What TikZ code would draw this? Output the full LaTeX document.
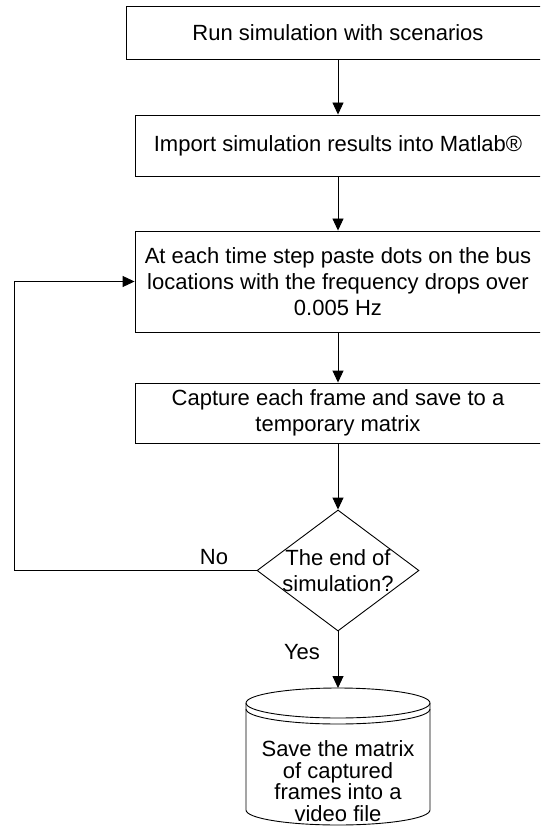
\documentclass[tikz,border=0pt]{standalone}
\usepackage{fontspec}
\setmainfont{Liberation Sans}
\usetikzlibrary{shapes.geometric,arrows.meta}

\tikzset{
  line/.style={draw=black, line width=0.9pt},
  arr/.style={line, -{Triangle[length=12pt,width=11pt]}},
  procbox/.style={line, rectangle, inner sep=0pt, align=center,
    font=\fontsize{22pt}{26pt}\selectfont},
  lbl/.style={inner sep=0pt, align=center,
    font=\fontsize{22pt}{26pt}\selectfont},
  storelbl/.style={inner sep=0pt, align=center,
    font=\fontsize{22pt}{21.5pt}\selectfont},
}

\begin{document}
\begin{tikzpicture}[x=1pt, y=-1pt]
  \clip (0,0) rectangle (540,826);
  \fill[white] (0,0) rectangle (540,826);

  % process steps
  \node[procbox, minimum width=424pt, minimum height=53pt] (run) at (338,32.5)
    {Run simulation with scenarios};
  \node[procbox, minimum width=406pt, minimum height=61pt] (import) at (338,145.5)
    {Import simulation results into Matlab®};
  \node[procbox, minimum width=406pt, minimum height=101pt] (paste) at (338,281.5)
    {At each time step paste dots on the bus\\locations with the frequency drops over\\0.005 Hz};
  \node[procbox, minimum width=406pt, minimum height=60pt] (capture) at (338,413)
    {Capture each frame and save to a\\temporary matrix};

  % decision
  \node[line, diamond, minimum width=162pt, minimum height=121pt, inner sep=0pt] (dec) at (338,570.5) {};
  \node[lbl] (dectext) at (dec.center) {The end of\\simulation?};

  % stored data
  \coordinate (storetop) at (338,688);
  \draw[line] (338,703) ellipse [x radius=92, y radius=15];
  \draw[line] (246,703) -- (246,810)
    arc[start angle=180, end angle=0, x radius=92, y radius=15] -- (430,703);
  \draw[line] (246,709) arc[start angle=180, end angle=0, x radius=92, y radius=15];
  \node[storelbl] (store) at (338,781)
    {Save the matrix\\of captured\\frames into a\\video file};

  % flow
  \draw[arr] (run) -- (import);
  \draw[arr] (import) -- (paste);
  \draw[arr] (paste) -- (capture);
  \draw[arr] (capture) -- (dec.north);
  \draw[arr] (dec.south) -- (storetop);
  \coordinate (loopcorner) at (14,570.5);
  \draw[arr] (dec.west) -- (loopcorner) |- (paste.west);

  % branch labels
  \node[lbl] (no) at (214,557) {No};
  \node[lbl] (yes) at (302,652) {Yes};
\end{tikzpicture}
\end{document}
